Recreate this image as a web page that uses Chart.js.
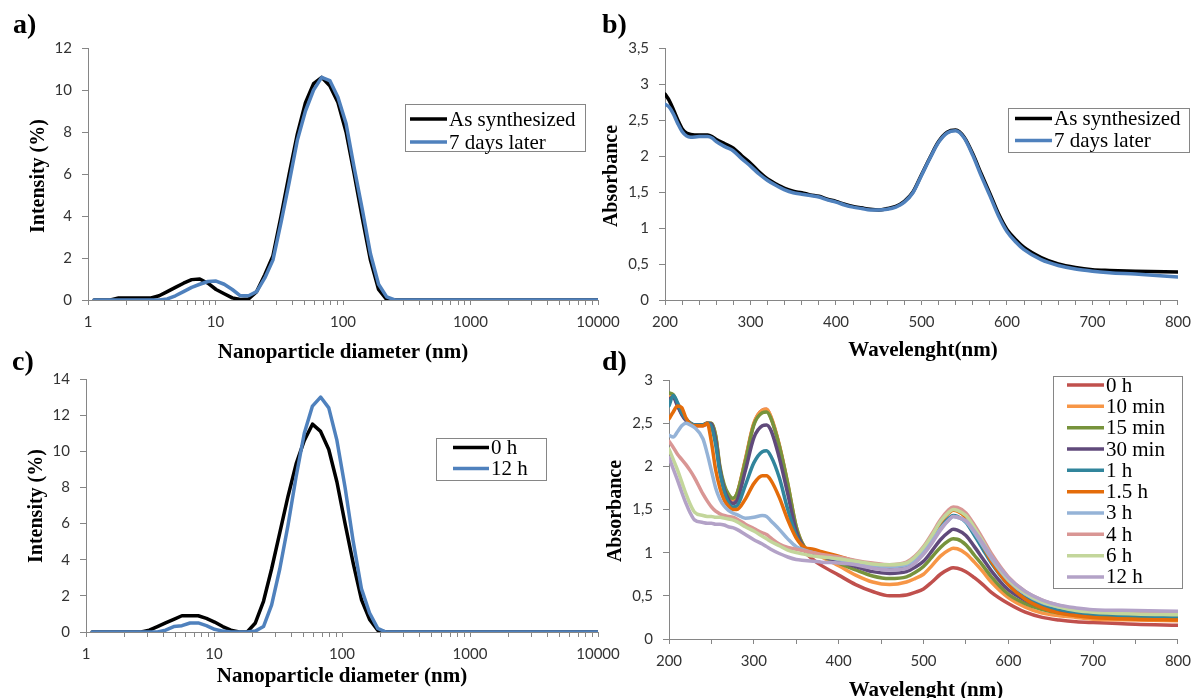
<!DOCTYPE html>
<html><head><meta charset="utf-8">
<script src="https://cdn.jsdelivr.net/npm/chart.js@4.4.0/dist/chart.umd.min.js"></script>
<style>
html,body{margin:0;padding:0;background:#fff;}
#wrap{position:relative;width:1199px;height:698px;overflow:hidden;background:#fff;}
canvas{position:absolute;left:0;top:0;}
.t{position:absolute;font-family:"Liberation Serif","Times New Roman",serif;font-weight:bold;color:#000;white-space:nowrap;line-height:1;}
.pl{font-size:28px;}
.xt{font-size:21px;transform:translate(-50%,-50%);}
.yt{font-size:20px;transform:translate(-50%,-50%) rotate(-90deg);}
</style></head>
<body><div id="wrap">
<canvas id="ca" width="1199" height="698"></canvas>
<canvas id="cb" width="1199" height="698"></canvas>
<canvas id="cc" width="1199" height="698"></canvas>
<canvas id="cd" width="1199" height="698"></canvas>
<div class="t pl" style="left:13px;top:10px">a)</div>
<div class="t pl" style="left:602px;top:10px">b)</div>
<div class="t pl" style="left:12px;top:347px">c)</div>
<div class="t pl" style="left:602px;top:347px">d)</div>
<div class="t yt" style="left:37px;top:176px">Intensity (%)</div>
<div class="t xt" style="left:343px;top:351px">Nanoparticle diameter (nm)</div>
<div class="t yt" style="left:610px;top:176px">Absorbance</div>
<div class="t xt" style="left:923px;top:349px">Wavelenght(nm)</div>
<div class="t yt" style="left:35px;top:506px">Intensity (%)</div>
<div class="t xt" style="left:342px;top:675px">Nanoparticle diameter (nm)</div>
<div class="t yt" style="left:614px;top:511px">Absorbance</div>
<div class="t xt" style="left:926px;top:689px">Wavelenght (nm)</div>
</div>
<script>
// ---------- DATA ----------
const SIZE_NM = [1.117,1.294,1.499,1.736,2.010,2.328,2.696,3.122,3.615,4.187,4.849,5.615,6.503,7.531,8.721,10.10,11.70,13.54,15.69,18.17,21.04,24.36,28.21,32.67,37.84,43.82,50.75,58.77,68.06,78.82,91.28,105.7,122.4,141.8,164.2,190.1,220.2,255.0,295.3,342.0,396.1,458.7,531.2,615.1,712.4,825.0,955.4,1106,1281,1484,1718,1990,2305,2669,3091,3580,4145,4801,5560,6439,7456,8635,10000];
const INT_A_SYN = [0,0,0,0.1,0.1,0.1,0.1,0.1,0.2,0.4,0.6,0.8,0.97,1.0,0.8,0.5,0.3,0.1,0.02,0.05,0.4,1.2,2.1,4.0,6.0,7.9,9.4,10.3,10.6,10.2,9.4,8.0,6.0,3.9,1.9,0.5,0.02,0,0,0,0,0,0,0,0,0,0,0,0,0,0,0,0,0,0,0,0,0,0,0,0,0,0];
const INT_A_7D  = [0,0,0,0,0,0,0,0,0,0.05,0.2,0.4,0.6,0.75,0.88,0.9,0.75,0.5,0.2,0.2,0.4,1.05,1.9,3.7,5.6,7.6,9.0,10.0,10.6,10.45,9.65,8.4,6.3,4.3,2.2,0.75,0.15,0,0,0,0,0,0,0,0,0,0,0,0,0,0,0,0,0,0,0,0,0,0,0,0,0,0];
const INT_C_0H  = [0,0,0,0,0,0,0,0.1,0.3,0.5,0.7,0.9,0.9,0.9,0.75,0.55,0.3,0.1,0,0,0.5,1.7,3.5,5.5,7.5,9.3,10.6,11.5,11.1,10.1,8.3,6.0,3.8,1.8,0.7,0.1,0,0,0,0,0,0,0,0,0,0,0,0,0,0,0,0,0,0,0,0,0,0,0,0,0,0,0];
const INT_C_12H = [0,0,0,0,0,0,0,0,0,0.1,0.3,0.35,0.5,0.5,0.35,0.15,0.05,0,0,0,0.05,0.3,1.5,3.5,5.9,8.6,11.0,12.5,13.0,12.4,10.6,8.0,5.0,2.4,1.05,0.2,0,0,0,0,0,0,0,0,0,0,0,0,0,0,0,0,0,0,0,0,0,0,0,0,0,0,0];
const LABELS_AB = ['As synthesized','7 days later'];
const LABELS_C = ['0 h','12 h'];

const WL_B = [200,205,210,215,220,225,230,240,250,255,260,270,280,290,300,310,320,330,340,350,360,370,380,390,400,410,420,430,440,450,460,470,480,490,500,510,520,530,540,550,560,570,580,590,600,610,620,640,660,680,700,720,750,800];
const ABS_B_SYN = [2.86,2.77,2.64,2.5,2.38,2.32,2.3,2.29,2.29,2.27,2.23,2.17,2.11,2.0,1.9,1.78,1.68,1.61,1.55,1.51,1.49,1.46,1.44,1.4,1.37,1.33,1.3,1.28,1.26,1.25,1.27,1.3,1.37,1.5,1.74,1.98,2.2,2.33,2.36,2.26,2.03,1.75,1.48,1.2,0.98,0.84,0.73,0.59,0.5,0.45,0.42,0.41,0.4,0.39];
const ABS_B_7D  = [2.72,2.68,2.58,2.45,2.34,2.28,2.26,2.27,2.27,2.25,2.2,2.13,2.07,1.96,1.86,1.75,1.66,1.59,1.53,1.49,1.47,1.45,1.43,1.39,1.36,1.32,1.29,1.27,1.25,1.25,1.26,1.29,1.36,1.49,1.73,1.97,2.19,2.32,2.35,2.25,2.01,1.72,1.45,1.17,0.95,0.81,0.7,0.56,0.48,0.43,0.4,0.38,0.36,0.32];

const WL_D = [200,205,210,215,220,225,230,240,245,250,255,260,265,270,275,280,290,300,310,315,320,330,340,350,360,370,380,400,420,440,460,480,490,500,510,520,530,535,540,550,560,570,580,600,620,640,660,680,700,750,800];
const D_0H    = [2.79,2.81,2.71,2.61,2.54,2.49,2.47,2.47,2.49,2.49,2.34,1.97,1.76,1.65,1.61,1.67,2.07,2.49,2.65,2.66,2.57,2.24,1.78,1.28,1.02,0.92,0.85,0.74,0.63,0.55,0.5,0.51,0.54,0.58,0.66,0.75,0.81,0.825,0.82,0.78,0.71,0.63,0.54,0.41,0.31,0.25,0.22,0.2,0.19,0.17,0.16];
const D_10MIN = [2.8,2.82,2.72,2.62,2.55,2.5,2.48,2.48,2.5,2.5,2.35,1.98,1.77,1.66,1.62,1.68,2.08,2.5,2.65,2.66,2.58,2.25,1.8,1.3,1.06,1.0,0.95,0.85,0.74,0.66,0.63,0.66,0.7,0.75,0.85,0.96,1.03,1.05,1.045,0.99,0.89,0.78,0.66,0.48,0.37,0.3,0.27,0.25,0.23,0.22,0.21];
const D_15MIN = [2.85,2.83,2.72,2.62,2.55,2.5,2.48,2.48,2.5,2.5,2.36,2.0,1.79,1.68,1.63,1.68,2.06,2.48,2.62,2.63,2.56,2.24,1.8,1.3,1.06,1.0,0.96,0.88,0.8,0.73,0.7,0.72,0.77,0.84,0.95,1.06,1.14,1.16,1.155,1.09,0.97,0.85,0.72,0.52,0.41,0.34,0.3,0.28,0.26,0.25,0.24];
const D_30MIN = [2.78,2.8,2.7,2.6,2.53,2.5,2.48,2.48,2.5,2.49,2.3,1.96,1.74,1.62,1.57,1.6,1.95,2.33,2.47,2.48,2.42,2.1,1.68,1.25,1.05,1.0,0.96,0.9,0.84,0.78,0.76,0.78,0.83,0.9,1.02,1.15,1.24,1.27,1.26,1.2,1.07,0.93,0.79,0.57,0.45,0.37,0.33,0.3,0.29,0.28,0.27];
const D_1H    = [2.7,2.82,2.74,2.62,2.55,2.5,2.48,2.48,2.5,2.46,2.25,1.93,1.71,1.58,1.53,1.54,1.78,2.04,2.17,2.18,2.12,1.87,1.5,1.2,1.04,1.0,0.97,0.92,0.87,0.83,0.82,0.85,0.92,1.02,1.15,1.3,1.4,1.43,1.42,1.35,1.2,1.04,0.88,0.63,0.48,0.39,0.34,0.31,0.29,0.27,0.26];
const D_1_5H  = [2.55,2.63,2.7,2.68,2.56,2.49,2.47,2.47,2.5,2.28,1.96,1.75,1.61,1.54,1.5,1.5,1.62,1.8,1.89,1.89,1.84,1.64,1.38,1.17,1.06,1.04,1.01,0.96,0.9,0.86,0.84,0.87,0.94,1.05,1.19,1.35,1.46,1.49,1.48,1.41,1.26,1.08,0.9,0.63,0.46,0.36,0.3,0.27,0.25,0.23,0.22];
const D_3H    = [2.36,2.34,2.4,2.47,2.5,2.48,2.45,2.32,2.15,1.95,1.75,1.62,1.54,1.49,1.46,1.44,1.4,1.41,1.43,1.42,1.37,1.27,1.16,1.07,1.03,1.0,0.97,0.92,0.88,0.85,0.84,0.86,0.92,1.01,1.14,1.28,1.38,1.42,1.41,1.36,1.23,1.08,0.93,0.68,0.52,0.42,0.37,0.34,0.32,0.31,0.3];
const D_4H    = [2.29,2.22,2.14,2.08,2.02,1.95,1.87,1.68,1.6,1.53,1.48,1.45,1.43,1.42,1.41,1.39,1.33,1.28,1.23,1.21,1.17,1.1,1.06,1.04,1.02,1.0,0.98,0.95,0.91,0.88,0.86,0.89,0.96,1.07,1.22,1.38,1.5,1.53,1.525,1.46,1.32,1.16,0.99,0.72,0.55,0.45,0.39,0.35,0.33,0.31,0.3];
const D_6H    = [2.2,2.08,1.96,1.82,1.68,1.56,1.47,1.43,1.42,1.42,1.41,1.41,1.4,1.39,1.38,1.36,1.3,1.25,1.19,1.16,1.13,1.08,1.03,1.0,0.98,0.96,0.95,0.93,0.9,0.87,0.86,0.88,0.95,1.06,1.2,1.36,1.47,1.5,1.49,1.43,1.29,1.13,0.96,0.69,0.53,0.43,0.37,0.33,0.31,0.29,0.28];
const D_12H   = [2.1,1.97,1.84,1.7,1.57,1.46,1.38,1.35,1.34,1.34,1.33,1.33,1.32,1.3,1.29,1.27,1.21,1.15,1.1,1.07,1.04,0.99,0.95,0.92,0.91,0.9,0.89,0.88,0.86,0.82,0.8,0.82,0.88,0.98,1.11,1.26,1.38,1.42,1.41,1.37,1.25,1.11,0.96,0.71,0.55,0.45,0.39,0.36,0.34,0.33,0.32];
const LABELS_D = ['0 h','10 min','15 min','30 min','1 h','1.5 h','3 h','4 h','6 h','12 h'];
const SERIES_D = [D_0H,D_10MIN,D_15MIN,D_30MIN,D_1H,D_1_5H,D_3H,D_4H,D_6H,D_12H];
const COLORS_D = ['#C0504D','#F79646','#77933C','#604A7B','#31859C','#E46C0A','#95B3D7','#D99694','#C3D69B','#B3A2C7'];

const LOG_DECADES = [1,10,100,1000,10000];

// ---------- HELPERS ----------
const W = 1199, H = 698;
const AX = '#868686';
const TICK_FONT = {family: 'Lato', size: 15};
const TICK_COLOR = '#333333';
function pts(xs, ys){ return xs.map((x,i)=>({x:x, y:ys[i]})); }
function fmtComma(v){ return String(Math.round(v*10)/10).replace('.', ','); }

const boxLegend = {
  id: 'boxLegend',
  afterDraw(chart, args, o) {
    if (!o || o.x === undefined) return;
    const ctx = chart.ctx;
    ctx.save();
    ctx.fillStyle = '#fff';
    ctx.fillRect(o.x, o.y, o.w, o.h);
    ctx.strokeStyle = AX; ctx.lineWidth = 1;
    ctx.strokeRect(o.x + 0.5, o.y + 0.5, o.w, o.h);
    ctx.font = '21px "Liberation Serif", "Times New Roman", serif';
    ctx.textBaseline = 'middle';
    chart.data.datasets.forEach((ds, i) => {
      const cy = o.row0 + i * o.rowH;
      ctx.strokeStyle = ds.borderColor; ctx.lineWidth = 3.5; ctx.lineCap = 'butt';
      ctx.beginPath(); ctx.moveTo(o.lx1, cy); ctx.lineTo(o.lx2, cy); ctx.stroke();
      ctx.fillStyle = '#000';
      ctx.fillText(ds.label, o.tx, cy + 1);
    });
    ctx.restore();
  }
};

function axisBase(tickLen, pad){
  return {
    grid: {display: true, drawOnChartArea: false, drawTicks: true, tickLength: tickLen, color: AX, lineWidth: 1},
    border: {display: true, color: AX, width: 1},
    ticks: {color: TICK_COLOR, font: TICK_FONT, padding: pad, autoSkip: false, maxRotation: 0}
  };
}

function logX(){
  const a = axisBase(5, 8);
  a.type = 'logarithmic'; a.min = 1; a.max = 10000;
  a.afterBuildTicks = s => {
    const t = [];
    for (let d = 0; d < LOG_DECADES.length - 1; d++)
      for (let m = 1; m <= 9; m++) t.push({value: LOG_DECADES[d] * m});
    t.push({value: LOG_DECADES[LOG_DECADES.length - 1]});
    s.ticks = t;
  };
  a.ticks.callback = v => LOG_DECADES.includes(v) ? String(v) : '';
  return a;
}
function linX(min, max, step, every){
  const a = axisBase(5, 8);
  a.type = 'linear'; a.min = min; a.max = max;
  a.ticks.stepSize = step;
  a.ticks.callback = v => (Math.round(v) % every === 0 ? String(Math.round(v)) : '');
  return a;
}
function linY(min, max, step, comma){
  const a = axisBase(6, 10);
  a.type = 'linear'; a.min = min; a.max = max;
  a.ticks.stepSize = step;
  a.ticks.callback = v => comma ? fmtComma(v) : String(Math.round(v));
  return a;
}

function panel(id, area, xScale, yScale, datasets, legend){
  const yW = 70;
  const xH = H - area.bottom;
  xScale.afterFit = s => { s.height = xH; };
  yScale.afterFit = s => { s.width = yW; };
  new Chart(document.getElementById(id), {
    type: 'line',
    data: {datasets},
    options: {
      responsive: false, animation: false, events: [],
      layout: {padding: {left: area.left - yW, top: area.top, right: W - area.right, bottom: 0}},
      plugins: {legend: {display: false}, tooltip: {enabled: false}, boxLegend: legend},
      elements: {point: {radius: 0}, line: {borderJoinStyle: 'round', borderCapStyle: 'round'}},
      scales: {x: xScale, y: yScale}
    },
    plugins: [boxLegend]
  });
}

function ds(label, xs, ys, color, width, smooth, idx){
  return {label, data: pts(xs, ys), borderColor: color, backgroundColor: color,
    borderWidth: width, fill: false, order: -idx,
    tension: 0, cubicInterpolationMode: smooth ? 'monotone' : 'default'};
}

// a)
panel('ca', {left: 88, right: 598, top: 48, bottom: 300}, logX(), linY(0, 12, 2, false), [
  ds(LABELS_AB[0], SIZE_NM, INT_A_SYN, '#000000', 3.5, false, 0),
  ds(LABELS_AB[1], SIZE_NM, INT_A_7D, '#4F81BD', 3.5, false, 1)
], {x: 405, y: 104, w: 180, h: 47, row0: 119, rowH: 23, lx1: 410, lx2: 447, tx: 449});

// b)
panel('cb', {left: 665, right: 1182, top: 48, bottom: 300}, linX(200, 800, 20, 100), linY(0, 3.5, 0.5, true), [
  ds(LABELS_AB[0], WL_B, ABS_B_SYN, '#000000', 3.5, true, 0),
  ds(LABELS_AB[1], WL_B, ABS_B_7D, '#4F81BD', 3.5, true, 1)
], {x: 1008, y: 108, w: 181, h: 44, row0: 118.5, rowH: 22, lx1: 1015, lx2: 1052, tx: 1054});

// c)
panel('cc', {left: 86, right: 598, top: 379, bottom: 632}, logX(), linY(0, 14, 2, false), [
  ds(LABELS_C[0], SIZE_NM, INT_C_0H, '#000000', 3.5, false, 0),
  ds(LABELS_C[1], SIZE_NM, INT_C_12H, '#4F81BD', 3.5, false, 1)
], {x: 436, y: 438, w: 110, h: 42, row0: 447.5, rowH: 21, lx1: 453, lx2: 489, tx: 491});

// d)
panel('cd', {left: 669, right: 1185, top: 380, bottom: 639}, linX(200, 800, 50, 100), linY(0, 3, 0.5, true),
  SERIES_D.map((s, i) => ds(LABELS_D[i], WL_D, s, COLORS_D[i], 3.5, true, i)),
  {x: 1053, y: 376, w: 129, h: 212, row0: 385, rowH: 21.33, lx1: 1067, lx2: 1104, tx: 1106});
</script>
</body></html>
